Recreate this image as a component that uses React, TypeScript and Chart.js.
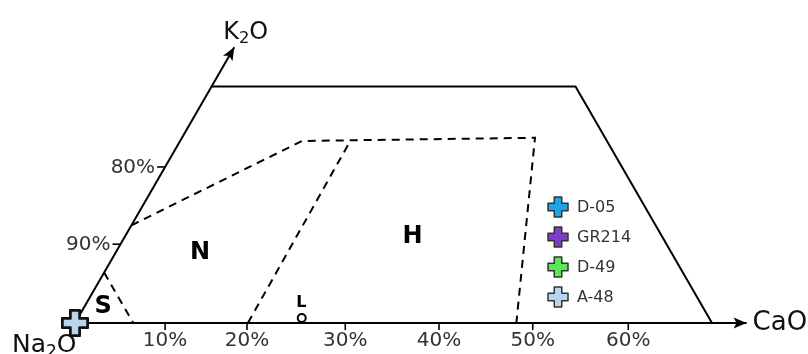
import React, { useEffect, useRef } from "react";
import { Chart, registerables } from "chart.js";

Chart.register(...registerables);

// ---- Data (ternary coordinates: [CaO %, K2O %]) ----
const OUTER_BOUNDARY: number[][] = [[0, 30], [40, 30], [70, 0]];
const S_BOUNDARY: number[][] = [[0, 6.4], [6.4, 0]];
const N_BOUNDARY: number[][] = [[0, 12.4], [13.4, 23.1], [38.8, 23.5], [48.5, 0]];
const H_BOUNDARY: number[][] = [[19.0, 0], [18.7, 23.0]];
const CAO_AXIS: number[][] = [[0, 0], [73.8, 0]];
const K2O_AXIS: number[][] = [[0, 0], [0, 35]];

const CAO_TICK_LABELS = ["10%", "20%", "30%", "40%", "50%", "60%"];
const CAO_TICK_POS = [9.9, 18.9, 29.7, 40.0, 50.3, 60.8];
const K2O_TICK_LABELS = ["90%", "80%"];
const K2O_TICK_POS = [10.0, 19.8];

const REGION_LABELS = ["S", "N", "H"];
const REGION_POS: number[][] = [[2.1, 2.0], [9.3, 8.9], [31.6, 11.0]];
const L_LABEL = "L";
const L_LABEL_POS: number[] = [23.6, 2.55];
const L_POINT: number[] = [24.6, 0.63];

const SAMPLE_NAMES = ["D-05", "GR214", "D-49", "A-48"];
const SAMPLE_COLORS = ["#19a6e4", "#7b3ec6", "#5ee65a", "#b9d4ee"];
const SAMPLE_CAO = [0, 0, 0, 0];
const SAMPLE_K2O = [0, 0, 0, 0];

// ---- helpers ----
const SQ3 = Math.sqrt(3) / 2;
const tern = (c: number, k: number) => ({ x: c + k / 2, y: k * SQ3 });
const toPts = (arr: number[][]) => arr.map(([c, k]) => tern(c, k));

const PX = 9.1;
const ORX = 75;
const ORY = 323;
const W = 808;
const H = 354;

const FONT = "'DejaVu Sans', Verdana, sans-serif";

function plusPath(ctx: CanvasRenderingContext2D, cx: number, cy: number, size: number, arm: number) {
  const h = size / 2;
  const a = arm / 2;
  ctx.beginPath();
  ctx.moveTo(cx - a, cy - h);
  ctx.lineTo(cx + a, cy - h);
  ctx.lineTo(cx + a, cy - a);
  ctx.lineTo(cx + h, cy - a);
  ctx.lineTo(cx + h, cy + a);
  ctx.lineTo(cx + a, cy + a);
  ctx.lineTo(cx + a, cy + h);
  ctx.lineTo(cx - a, cy + h);
  ctx.lineTo(cx - a, cy + a);
  ctx.lineTo(cx - h, cy + a);
  ctx.lineTo(cx - h, cy - a);
  ctx.lineTo(cx - a, cy - a);
  ctx.closePath();
}

function drawPlus(ctx: CanvasRenderingContext2D, cx: number, cy: number, size: number, arm: number, fill: string, stroke: string, lw: number) {
  ctx.save();
  plusPath(ctx, cx, cy, size, arm);
  ctx.fillStyle = fill;
  ctx.fill();
  ctx.lineWidth = lw;
  ctx.strokeStyle = stroke;
  ctx.lineJoin = "round";
  ctx.stroke();
  ctx.restore();
}

function plusImage(size: number, arm: number, fill: string, stroke: string, lw: number) {
  const c = document.createElement("canvas");
  const s = Math.ceil(size + lw + 2);
  c.width = s;
  c.height = s;
  const ctx = c.getContext("2d")!;
  drawPlus(ctx, s / 2, s / 2, size, arm, fill, stroke, lw);
  return c;
}

function drawChem(ctx: CanvasRenderingContext2D, parts: [string, boolean][], x: number, y: number, size: number, color: string) {
  ctx.save();
  ctx.fillStyle = color;
  ctx.textBaseline = "alphabetic";
  ctx.textAlign = "left";
  let cx = x;
  for (const [t, sub] of parts) {
    const fs = sub ? size * 0.68 : size;
    ctx.font = `${fs}px ${FONT}`;
    ctx.fillText(t, cx, sub ? y + size * 0.18 : y);
    cx += ctx.measureText(t).width;
  }
  ctx.restore();
}

function arrowHead(ctx: CanvasRenderingContext2D, tx: number, ty: number, angle: number) {
  const len = 13;
  const half = 5.5;
  ctx.save();
  ctx.translate(tx, ty);
  ctx.rotate(angle);
  ctx.beginPath();
  ctx.moveTo(0, 0);
  ctx.lineTo(-len, -half);
  ctx.lineTo(-len + 3, 0);
  ctx.lineTo(-len, half);
  ctx.closePath();
  ctx.fillStyle = "#000";
  ctx.fill();
  ctx.restore();
}

const decorPlugin = {
  id: "ternaryDecor",
  afterDatasetsDraw(chart: any) {
    const ctx: CanvasRenderingContext2D = chart.ctx;
    const xs = chart.scales.x;
    const ys = chart.scales.y;
    const px = (c: number, k: number) => {
      const p = tern(c, k);
      return [xs.getPixelForValue(p.x), ys.getPixelForValue(p.y)];
    };

    // arrow heads
    const [ax, ay] = px(CAO_AXIS[1][0], CAO_AXIS[1][1]);
    arrowHead(ctx, ax, ay, 0);
    const [kx, ky] = px(K2O_AXIS[1][0], K2O_AXIS[1][1]);
    arrowHead(ctx, kx, ky, -Math.PI / 3);

    // bottom ticks
    ctx.save();
    ctx.strokeStyle = "#000";
    ctx.lineWidth = 1.6;
    ctx.fillStyle = "#333";
    ctx.font = `20px ${FONT}`;
    ctx.textAlign = "center";
    ctx.textBaseline = "top";
    CAO_TICK_POS.forEach((v, i) => {
      const [tx, ty] = px(v, 0);
      ctx.beginPath();
      ctx.moveTo(tx, ty);
      ctx.lineTo(tx, ty + 7);
      ctx.stroke();
      ctx.fillText(CAO_TICK_LABELS[i], tx, ty + 8);
    });
    // slanted axis ticks
    ctx.textAlign = "right";
    ctx.textBaseline = "middle";
    K2O_TICK_POS.forEach((v, i) => {
      const [tx, ty] = px(0, v);
      ctx.beginPath();
      ctx.moveTo(tx, ty);
      ctx.lineTo(tx - 8, ty);
      ctx.stroke();
      ctx.fillText(K2O_TICK_LABELS[i], tx - 10, ty + 1);
    });
    ctx.restore();

    // axis titles
    drawChem(ctx, [["K", false], ["2", true], ["O", false]], kx - 11, ky - 8, 24, "#111");
    drawChem(ctx, [["CaO", false]], ax + 6, ay + 7, 26, "#111");
    const [ox, oy] = px(0, 0);
    drawChem(ctx, [["Na", false], ["2", true], ["O", false]], ox - 63, oy + 29, 25, "#111");

    // region labels
    ctx.save();
    ctx.fillStyle = "#000";
    ctx.textAlign = "center";
    ctx.textBaseline = "middle";
    ctx.font = `bold 24px ${FONT}`;
    REGION_LABELS.forEach((t, i) => {
      const [rx, ry] = px(REGION_POS[i][0], REGION_POS[i][1]);
      ctx.fillText(t, rx, ry);
    });
    ctx.font = `bold 16px ${FONT}`;
    const [lx, ly] = px(L_LABEL_POS[0], L_LABEL_POS[1]);
    ctx.fillText(L_LABEL, lx, ly);
    ctx.restore();

    // legend
    ctx.save();
    ctx.font = `16px ${FONT}`;
    ctx.fillStyle = "#333";
    ctx.textAlign = "left";
    ctx.textBaseline = "middle";
    SAMPLE_NAMES.forEach((n, i) => {
      const y = 207 + i * 30;
      drawPlus(ctx, 558, y, 20, 7.5, SAMPLE_COLORS[i], "#333", 1.5);
      ctx.fillStyle = "#333";
      ctx.fillText(n, 577, y + 1);
    });
    ctx.restore();
  },
};

export default function App() {
  const ref = useRef<HTMLCanvasElement | null>(null);
  useEffect(() => {
    if (!ref.current) return;
    const lineDs = (data: number[][], dashed: boolean, width: number) => ({
      type: "scatter" as const,
      data: toPts(data),
      showLine: true,
      borderColor: "#000",
      borderWidth: width,
      borderDash: dashed ? [8, 6] : [],
      pointRadius: 0,
      fill: false,
      tension: 0,
      order: 10,
      clip: false as any,
    });
    const sampleDs = SAMPLE_NAMES.map((n, i) => ({
      type: "scatter" as const,
      label: n,
      data: [tern(SAMPLE_CAO[i], SAMPLE_K2O[i])],
      pointStyle: plusImage(25, 9, SAMPLE_COLORS[i], "#111", 2.5) as any,
      pointRadius: 14,
      order: SAMPLE_NAMES.length - i,
      clip: false as any,
    }));
    const chart = new Chart(ref.current, {
      type: "scatter",
      data: {
        datasets: [
          lineDs(CAO_AXIS, false, 2),
          lineDs(K2O_AXIS, false, 2),
          lineDs(OUTER_BOUNDARY, false, 2),
          lineDs(S_BOUNDARY, true, 2),
          lineDs(N_BOUNDARY, true, 2),
          lineDs(H_BOUNDARY, true, 2),
          {
            type: "scatter" as const,
            label: "L",
            data: [tern(L_POINT[0], L_POINT[1])],
            pointStyle: "circle",
            pointRadius: 4,
            borderWidth: 2,
            borderColor: "#000",
            backgroundColor: "#fff",
            order: 6,
          },
          ...sampleDs,
        ] as any,
      },
      options: {
        responsive: false,
        animation: false,
        devicePixelRatio: 1,
        layout: { padding: 0, autoPadding: false },
        plugins: { legend: { display: false }, tooltip: { enabled: false } },
        events: [],
        scales: {
          x: { type: "linear", display: false, min: -ORX / PX, max: (W - ORX) / PX },
          y: { type: "linear", display: false, min: -(H - ORY) / PX, max: ORY / PX },
        },
      },
      plugins: [decorPlugin],
    });
    return () => chart.destroy();
  }, []);
  return (
    <div style={{ position: "absolute", left: 0, top: 0, width: W, height: H, background: "#fff" }}>
      <canvas ref={ref} width={W} height={H} style={{ display: "block" }} />
    </div>
  );
}
